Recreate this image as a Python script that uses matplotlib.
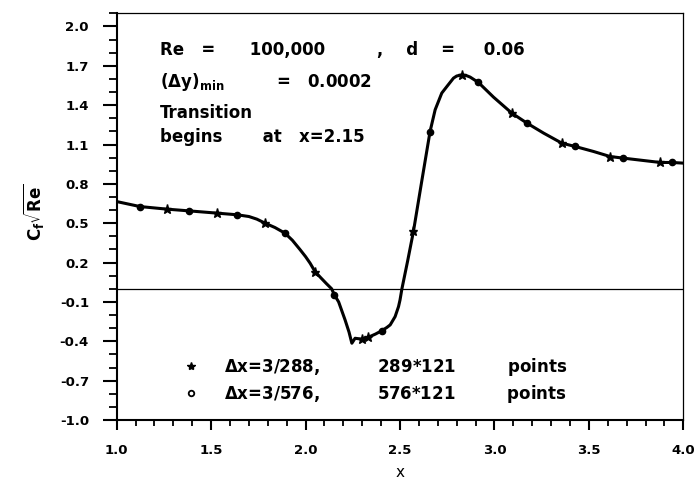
import matplotlib
matplotlib.use("Agg")
import matplotlib.pyplot as plt
from matplotlib.lines import Line2D
from matplotlib.ticker import MultipleLocator

# skin friction distribution along the plate
curve_x = [1.0, 1.123, 1.268, 1.383, 1.53, 1.639, 1.70, 1.742, 1.786, 1.838, 1.891,
           1.93, 1.97, 2.0, 2.024, 2.05, 2.08, 2.11, 2.138, 2.152, 2.175, 2.209, 2.23,
           2.245, 2.262, 2.298, 2.333, 2.37, 2.404, 2.43, 2.448, 2.474, 2.492, 2.50,
           2.51, 2.54, 2.571, 2.615, 2.659, 2.686, 2.721, 2.748, 2.783, 2.80, 2.827,
           2.85, 2.871, 2.915, 2.995, 3.092, 3.172, 3.26, 3.357, 3.427, 3.524, 3.613,
           3.683, 3.789, 3.878, 3.94, 4.0]
curve_y = [0.665, 0.627, 0.607, 0.594, 0.577, 0.564, 0.551, 0.531, 0.50, 0.467, 0.424,
           0.37, 0.30, 0.245, 0.195, 0.131, 0.085, 0.04, 0.0, -0.045, -0.10, -0.237, -0.33,
           -0.415, -0.377, -0.384, -0.369, -0.345, -0.319, -0.295, -0.275, -0.212, -0.136,
           -0.085, 0.0, 0.21, 0.437, 0.82, 1.199, 1.365, 1.492, 1.542, 1.606, 1.622, 1.631,
           1.626, 1.614, 1.573, 1.461, 1.339, 1.263, 1.187, 1.11, 1.085, 1.047, 1.008,
           0.996, 0.978, 0.963, 0.963, 0.958]

# coarse grid (dx = 3/288)
star_x = [1.268, 1.53, 1.786, 2.05, 2.298, 2.333, 2.571, 2.827, 3.092, 3.357, 3.613, 3.878]
star_y = [0.607, 0.577, 0.50, 0.131, -0.384, -0.369, 0.437, 1.631, 1.339, 1.11, 1.008, 0.963]

# fine grid (dx = 3/576)
circle_x = [1.123, 1.383, 1.639, 1.891, 2.152, 2.404, 2.659, 2.915, 3.172, 3.427, 3.683, 3.94]
circle_y = [0.627, 0.594, 0.564, 0.424, -0.045, -0.319, 1.199, 1.573, 1.263, 1.085, 0.996, 0.963]

x_ticks = [1.0, 1.5, 2.0, 2.5, 3.0, 3.5, 4.0]
y_ticks = [-1.0, -0.7, -0.4, -0.1, 0.2, 0.5, 0.8, 1.1, 1.4, 1.7, 2.0]

plt.rcParams['font.family'] = 'DejaVu Sans'
plt.rcParams['mathtext.fontset'] = 'dejavusans'

fig = plt.figure(figsize=(6.98, 4.79), dpi=100)
ax = fig.add_axes([0.1672, 0.1232, 0.8118, 0.8490])

ax.axhline(0.0, color='black', lw=0.9)
ax.plot(curve_x, curve_y, color='black', lw=2.2, solid_capstyle='round',
        solid_joinstyle='round')
ax.plot(star_x, star_y, ls='none', marker='*', ms=6.5, color='black')
ax.plot(circle_x, circle_y, ls='none', marker='o', ms=4.5, mfc='black', mec='black')

ax.set_xlim(1.0, 4.0)
ax.set_ylim(-1.0, 2.1)
ax.set_xticks(x_ticks)
ax.set_yticks(y_ticks)
ax.set_xticklabels(['%.1f' % v for v in x_ticks], fontweight='bold', fontsize=9.5)
ax.set_yticklabels(['%.1f' % v for v in y_ticks], fontweight='bold', fontsize=9.5)
ax.xaxis.set_minor_locator(MultipleLocator(0.1))
ax.yaxis.set_minor_locator(MultipleLocator(0.1))
ax.tick_params(axis='x', which='major', direction='out', length=7, width=1.5, pad=10)
ax.tick_params(axis='x', which='minor', direction='out', length=4, width=1.3)
ax.tick_params(axis='y', which='major', direction='out', length=10, width=1.5, pad=10)
ax.tick_params(axis='y', which='minor', direction='out', length=6, width=1.3)
ax.tick_params(top=False, right=False, which='both')
for side in ['left', 'bottom']:
    ax.spines[side].set_linewidth(1.5)
for side in ['top', 'right']:
    ax.spines[side].set_linewidth(0.9)

ax.set_xlabel('x', fontsize=11)
ax.xaxis.set_label_coords(0.5, -0.11)
ax.set_ylabel(r'$\mathbf{C_f\sqrt{Re}}$', fontsize=12)
ax.yaxis.set_label_coords(-0.125, 0.51)

# flow parameters
txt = dict(fontsize=12, fontweight='bold', color='black')
ax.text(1.229, 1.784, 'Re   =      100,000         ,    d    =     0.06', **txt)
ax.text(1.229, 1.54, r'($\mathbf{\Delta}$y)$_{\mathbf{min}}$         =   0.0002', **txt)
ax.text(1.229, 1.304, 'Transition', **txt)
ax.text(1.229, 1.121, 'begins       at   x=2.15', **txt)

handles = [Line2D([], [], ls='none', marker='*', ms=6, color='black'),
           Line2D([], [], ls='none', marker='o', ms=4, mfc='white', mec='black', mew=1.3)]
labels = [r'$\mathbf{\Delta}$x=3/288,          289*121         points',
          r'$\mathbf{\Delta}$x=3/576,          576*121         points']
ax.legend(handles, labels, loc='lower left', bbox_to_anchor=(0.09, 0.0),
          frameon=False, prop=dict(size=12, weight='bold'), handlelength=1.0,
          handletextpad=1.5, labelspacing=0.3)

fig.savefig('out.png', dpi=100)
